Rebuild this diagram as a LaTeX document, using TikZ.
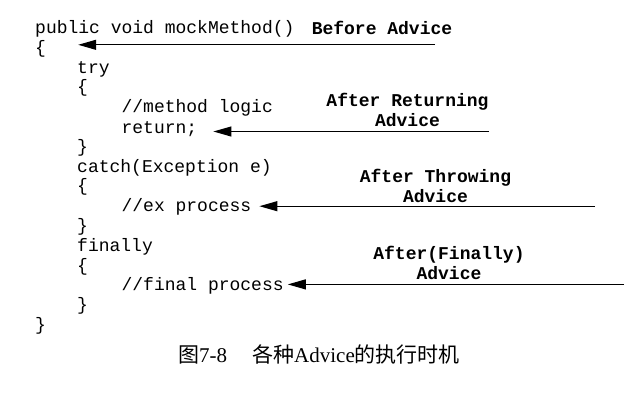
\documentclass[tikz,border=0pt]{standalone}
\usepackage{fontspec}
\setmainfont{Liberation Serif}
\setmonofont{Liberation Mono}
\newfontfamily\cjk{Noto Sans CJK SC}
\usetikzlibrary{arrows.meta,positioning}

\begin{document}
\begin{tikzpicture}[x=1pt,y=-1pt,
	codeline/.style={font=\fontsize{18}{18}\selectfont\ttfamily, inner sep=0pt, anchor=west,
		text height=13.5pt, text depth=2.7pt},
	advice/.style={font=\fontsize{18}{20}\selectfont\ttfamily\bfseries, align=center, inner sep=0pt},
	post/.style={draw, line width=1.1pt, -{Triangle[length=18pt,width=10pt]}}]
	\useasboundingbox (0,0) rectangle (643,400);

	% the method
	\node [codeline] (Signature)	at (35, 28)    {public void mockMethod()};
	\node [codeline] (OpenMethod)	at (35, 47.8)  {\{};
	\node [codeline] (Try)			at (77, 67.6)  {try};
	\node [codeline] (OpenTry)		at (77, 87.4)  {\{};
	\node [codeline] (Logic)		at (121.4, 107.2) {//method logic};
	\node [codeline] (Return)		at (121.4, 128.5) {return;};
	\node [codeline] (CloseTry)		at (77, 146.8) {\}};
	\node [codeline] (Catch)		at (77, 166.6) {catch(Exception e)};
	\node [codeline] (OpenCatch)	at (77, 186.4) {\{};
	\node [codeline] (ExProcess)	at (121.4, 206.2) {//ex process};
	\node [codeline] (CloseCatch)	at (77, 226)   {\}};
	\node [codeline] (Finally)		at (77, 245.8) {finally};
	\node [codeline] (OpenFinally)	at (77, 265.6) {\{};
	\node [codeline] (FinalProcess)	at (121.4, 285.4) {//final process};
	\node [codeline] (CloseFinally)	at (77, 305.2) {\}};
	\node [codeline] (CloseMethod)	at (35, 325)   {\}};

	% the advices
	\node [advice] (BeforeAdvice)		at (382, 28)    {Before Advice};
	\node [advice] (ReturningAdvice)	at (407.5, 110) {After Returning\\Advice};
	\node [advice] (ThrowingAdvice)		at (435.5, 186) {After Throwing\\Advice};
	\node [advice] (FinallyAdvice)		at (449, 262.5) {After(Finally)\\Advice};

	\coordinate (BeforeTail)	at (435, 44.8);
	\coordinate (ReturningTail)	at (489, 131.5);
	\coordinate (ThrowingTail)	at (595, 206.2);
	\coordinate (FinallyTail)	at (624, 284.4);

	\draw [post, shorten >=32pt] (BeforeTail) -- ([yshift=3pt]OpenMethod.east);
	\draw [post, shorten >=16pt] (ReturningTail) -- ([yshift=-3pt]Return.east);
	\draw [post, shorten >=8pt] (ThrowingTail) -- (ExProcess.east);
	\draw [post, shorten >=4pt] (FinallyTail) -- ([yshift=1pt]FinalProcess.east);

	% caption
	\node [anchor=west, inner sep=0pt, font=\fontsize{21}{21}\selectfont] (Caption) at (178, 354)
		{{\cjk 图}7-8\hspace{25pt}{\cjk 各种}Advice{\cjk 的执行时机}};
\end{tikzpicture}
\end{document}
